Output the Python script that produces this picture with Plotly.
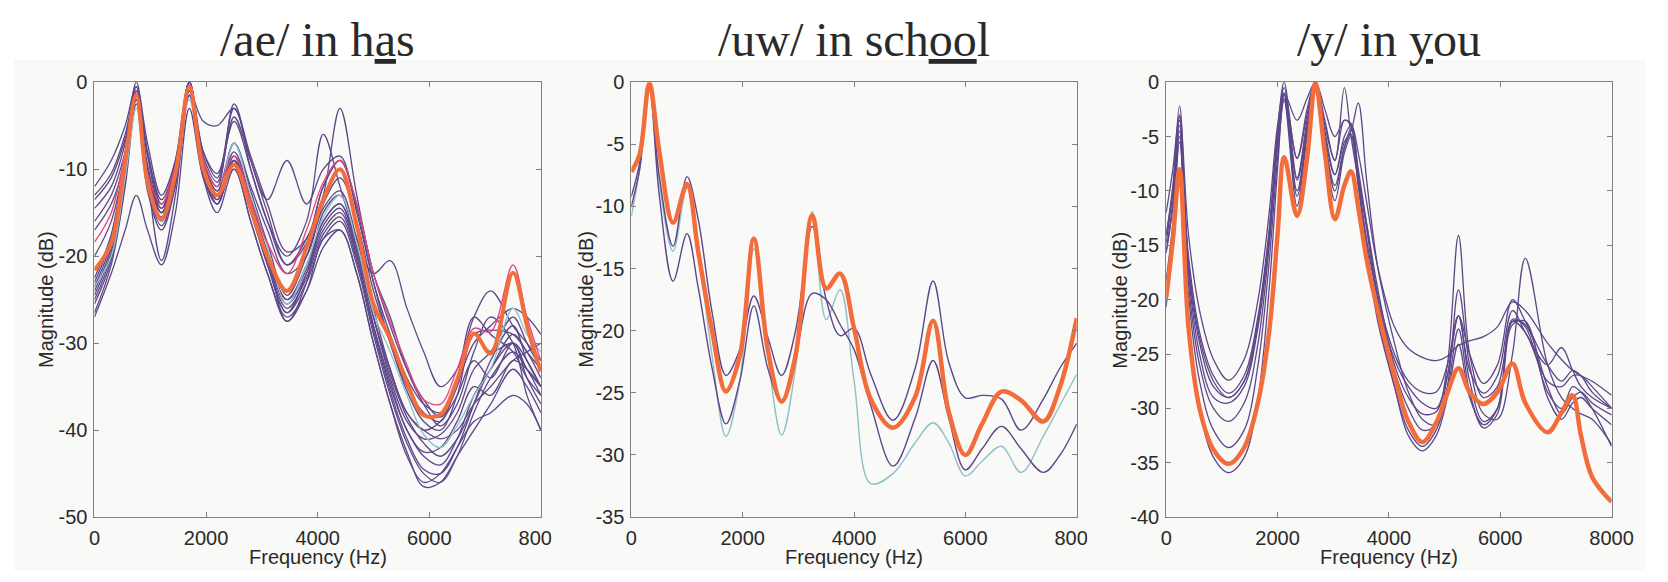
import plotly.graph_objects as go

W, H = 1668, 582

# ---------------- data ----------------
TITLES = ["/ae/ in h<u>a</u>s", "/uw/ in sch<u>oo</u>l", "/y/ in <u>y</u>ou"]
X_LABEL = "Frequency (Hz)"
Y_LABEL = "Magnitude (dB)"
X_TICKS = [0, 2000, 4000, 6000, 8000]
X_TICKTEXT = ["0", "2000", "4000", "6000", "8000"]
Y_TICKS_AE = [-50, -40, -30, -20, -10, 0]
Y_TICKS_UW = [-35, -30, -25, -20, -15, -10, -5, 0]
Y_TICKS_Y = [-40, -35, -30, -25, -20, -15, -10, -5, 0]

# Panel 1: /ae/ in has
FREQ_AE = [0, 300, 550, 750, 950, 1200, 1450, 1700, 1950, 2200, 2500, 2800, 3100, 3450, 3800,
           4100, 4400, 4700, 5000, 5300, 5600, 5900, 6200, 6500, 6800, 7100, 7500, 7750, 8000]
AE_ORANGE = [-21.6, -18.5, -9, -1.5, -11.5, -15.7, -10.5, -0.5, -10, -13, -9.5, -14.5, -20, -24, -19,
             -13.5, -10, -16.5, -25.5, -29.5, -34.5, -38.3, -38.2, -34.2, -28.9, -31.2, -21.9, -28, -33.3]
AE_PINK = [-18.4, -15, -8, -1, -10.5, -14, -9.5, -0.5, -9, -12, -8.5, -13.5, -18.5, -22, -17,
           -11.5, -9, -14, -22, -27.5, -32.5, -36.5, -37, -33, -28.3, -28.7, -21, -27, -32]
AE_TEAL = [-23.5, -20, -11, -3, -12, -16, -11, -2, -10, -13, -7, -13, -19, -25.5, -21,
           -15.5, -13, -18.5, -26.5, -31, -36, -40.5, -42, -39.5, -36, -33, -26, -29, -31]
AE_PURPLE = [
    [-24, -19, -10, -1, -11, -15.5, -10, 0, -9.5, -13.5, -8.5, -14, -20, -25.5, -22, -17, -15, -20, -28, -35, -40, -43, -44, -41, -36, -33, -29, -31, -34],
    [-25, -20, -11, -2, -12, -16, -11, -1, -10, -14, -9.5, -15, -21, -26.5, -23, -18, -16, -21, -29, -36, -41.5, -45, -46, -43, -38, -34, -31, -33, -36],
    [-23, -18, -9, -0.5, -10, -14.5, -9, 0, -9, -12.5, -8, -13.5, -19.5, -25, -21, -16, -14, -19.5, -27, -34, -39, -41, -40.5, -38, -33, -31, -27, -30, -33],
    [-26.5, -21, -12, -2.5, -12.5, -17, -12, -1.5, -11, -15, -10, -16, -22, -27, -24, -19, -17, -22, -30, -37, -42.5, -46.5, -46, -43, -40, -37, -33, -35, -38],
    [-22.5, -17.5, -8.5, -1, -10.5, -15, -10, -0.5, -10, -13, -7, -12.5, -18.5, -24.5, -20, -14.5, -12.5, -18, -26, -33, -38, -40, -39, -36, -32, -34, -30, -32, -35],
    [-24.5, -19.5, -10.5, -1.5, -11.5, -16, -10.5, -0.5, -10.5, -14, -9, -14.5, -20.5, -26, -22.5, -17.5, -15.5, -20.5, -28.5, -35.5, -41, -44.5, -45, -42, -37, -32, -28, -32, -35],
    [-25.5, -20.5, -11.5, -1, -12, -16.5, -11.5, -1, -10, -13.5, -9, -14.5, -21, -26.5, -22, -16.5, -14.5, -20, -28, -34.5, -40, -42.5, -42, -39, -35, -36, -32, -33, -35],
    [-23.5, -18.5, -9.5, -1, -11, -15, -10, 0, -9.5, -13, -8.5, -14, -20, -25, -21.5, -16, -14, -19, -27, -33.5, -38.5, -41.5, -43, -41, -37, -33, -30, -34, -37],
    [-12, -9, -5, -0.5, -7, -13, -9, 0, -8, -11, -3, -8.5, -14, -19.5, -18, -12, -9, -14, -22, -28, -33, -36.5, -38.5, -35, -29, -31, -30, -33, -35],
    [-13, -10.5, -6, -1, -8, -14, -10, 0, -8.5, -11.5, -4, -9, -13.5, -9, -14, -10, -8.5, -15, -23, -30, -35, -38, -39, -34, -27, -29, -31, -34, -36],
    [-14.5, -12, -7, 0, -8.5, -14.5, -10.5, -0.5, -9, -12, -2.5, -9, -15, -21, -18, -13, -3, -13, -22, -27, -33, -37, -39.5, -37, -31, -27, -30, -36, -40],
    [-16, -13, -8, -1.5, -9.5, -15, -11, -1, -4.5, -5, -3, -10, -16, -20, -16, -6, -12, -18, -22, -20.5, -26, -31, -35, -33, -27, -24, -28, -30, -32],
    [-13.5, -11, -6.5, -1, -8, -13.5, -9.5, 0, -8, -10.5, -4.5, -10, -16, -21, -18.5, -12, -9, -14.5, -23, -29, -34, -37, -38, -34.5, -30, -28, -26, -27, -29],
    [-17, -14, -9, -2, -10, -15, -11, -0.5, -9.5, -12.5, -7, -12, -17, -22, -20, -14, -11, -16, -24, -30, -35.5, -39, -40, -36, -29, -28.5, -29, -31, -33],
    [-27, -22, -17, -13, -17, -21, -15, -3, -11, -14, -9, -14.5, -20, -27.5, -24, -18, -17, -22, -30, -37, -43, -46, -45, -42, -39, -38, -36, -37, -40],
    [-20, -16, -9, -2, -11, -20.5, -13, -1.5, -10, -13, -10, -16, -22, -27.5, -23, -15, -13, -19, -27, -33, -38, -40, -41, -40, -37, -35, -32, -31, -30],
]

# Panel 2: /uw/ in school
FREQ_UW = [0, 150, 323, 500, 750, 1000, 1200, 1450, 1700, 1950, 2200, 2450, 2700, 2950, 3250,
           3500, 3750, 4000, 4300, 4700, 5100, 5420, 5700, 6000, 6300, 6650, 7000, 7400, 7700, 8000]
UW_ORANGE = [-7.2, -5.8, -0.1, -5.5, -11.3, -8.2, -13.6, -20, -24.9, -22, -12.6, -21.5, -25.7, -22, -10.7,
             -16.6, -15.4, -19.8, -25.5, -27.8, -25.3, -19.2, -26.5, -30, -27.5, -24.9, -25.6, -27.3, -24.5, -19]
UW_TEAL = [-10.8, -7, -0.5, -8, -13.6, -8.5, -13.5, -22, -28.5, -24, -13.4, -22, -28.4, -23, -10.4,
           -19.1, -16.7, -24, -32.3, -31.5, -29, -27.4, -29, -31.7, -30.5, -29.3, -31.4, -28.5, -26, -23.5]
UW_PURPLE = [
    [-9.2, -6.5, -0.3, -7.5, -13.2, -7.6, -11, -18.5, -23.6, -21.5, -17.2, -20.5, -23.6, -20, -11.6,
     -17.5, -20.4, -19.8, -23.5, -27.2, -23, -16, -22.5, -25.4, -25.2, -25.5, -28, -25.5, -23, -21],
    [-10, -7, -0.5, -9, -16, -12.2, -16.5, -23, -27.5, -24, -18, -23, -25.8, -22, -17,
     -17.5, -19.5, -21.5, -26, -30.9, -27, -22.4, -27, -31.2, -29.5, -27.7, -29.5, -31.4, -30, -27.5],
]

# Panel 3: /y/ in you
FREQ_Y = [0, 120, 240, 400, 600, 850, 1120, 1400, 1650, 1850, 2000, 2120, 2350, 2530, 2680,
          2850, 3030, 3200, 3320, 3450, 3600, 3800, 4100, 4350, 4600, 4850, 5050, 5250, 5450, 5700,
          5950, 6220, 6450, 6850, 7100, 7300, 7450, 7650, 8000]
Y_ORANGE = [-19.8, -14.5, -8.0, -22.5, -30, -33.8, -35.1, -33.6, -29.4, -22.9, -14, -6.9, -12.3, -7, -0.1,
            -6.5, -12.6, -9.5, -8.2, -11.5, -16.3, -21, -27, -31.2, -33.1, -31.3, -28.6, -26.3, -28.5, -29.6,
            -28.5, -25.9, -29.5, -32.2, -30.4, -28.8, -32.5, -36.3, -38.6]
Y_PURPLE = [
    [-12, -8, -3, -14, -21, -25.5, -27.4, -25.5, -20, -12, -4, -1, -3.5, -1.5, 0, -2.5, -5, -3.5, -3.8, -6.5,
     -11, -17, -22.5, -24.5, -25.3, -25.6, -25.2, -24.2, -23.8, -23.4, -22.5, -20.2, -21, -24, -25.5, -26.5, -27, -27.5, -28.8],
    [-14.1, -9.5, -2.2, -17, -24, -28, -29, -27.5, -22, -14, -5, -0.5, -7, -3, 0, -4, -7.2, -0.5, -5, -9,
     -13, -19, -26, -29, -30.5, -30.3, -26, -14.1, -25, -29, -28, -22, -23, -27.5, -28, -27, -27, -28, -30],
    [-14.8, -10, -3.5, -17.5, -25, -29, -29.5, -28, -22.5, -14.5, -5.5, -1.2, -9, -4, 0, -5, -8.5, -5.5, -4.5, -1.9,
     -9, -17, -24, -28.5, -31, -31.5, -28, -19.1, -26, -30.5, -31, -25, -16.2, -26, -29, -30, -30.5, -31, -33.3],
    [-15.5, -11, -4, -18.5, -26, -30, -31.2, -29.5, -24, -15, -6, -1.5, -10, -4.5, -0.3, -5.5, -9.5, -6, -4.8, -9,
     -14.5, -20, -26.5, -30, -32, -31.5, -27, -21.5, -27.5, -31.2, -30, -22, -22.3, -28, -30.5, -29, -28.5, -29.5, -30.6],
    [-15.7, -11.5, -4.5, -19.5, -27.5, -32, -33.6, -32, -26, -16.5, -7, -1.7, -11.4, -5, -0.5, -6, -10.9, -6.5, -5, -9.5,
     -15, -21.5, -28, -32, -33.5, -32, -28.5, -22.7, -28.5, -31.8, -30.5, -22.3, -22, -29, -31, -29.5, -29, -30, -31.5],
    [-18.2, -13, -5, -22, -30, -34.5, -35.9, -34.5, -29, -19, -8, -1, -10.5, -4.5, -0.2, -5.5, -10, -6, -4.3, -9.5,
     -15.5, -22, -28, -32.5, -33.9, -32.5, -29, -24.1, -29, -31.5, -30, -21.8, -22.5, -28.5, -30, -28, -28.5, -30, -33.5],
    [-20.7, -14, -5.5, -16, -23, -27, -28.6, -27, -21.5, -13.5, -4.5, 0, -8.8, -3.5, 0, -4.5, -8.5, -5, -4, -8.5,
     -13.5, -20, -25.5, -28, -29.5, -30, -27, -21.5, -26.5, -28.6, -27, -21, -23, -26, -24.4, -26.5, -28, -29, -30],
    [-14, -10, -3.2, -16.5, -23.5, -27.5, -29, -27.5, -22, -14, -5, -1, -7, -2.5, 0, -3.5, -7.2, -3.5, -4, -8,
     -13, -19.5, -25, -27.5, -28.5, -28.5, -26, -21.5, -25, -27.7, -26, -20, -22, -26, -27.5, -26.5, -27, -28.5, -30],
]

# ---------------- style ----------------
PURPLE = "#5d4789"
ORANGE = "#f26c3c"
TEAL = "#8fc1c8"
PINK = "#e2437e"
BG = "#f9f9f7"
AXC = "#808080"
TXT = "#2a2a2a"

fig = go.Figure()


def add(freq, vals, color, width, ax):
    fig.add_trace(go.Scatter(
        x=freq, y=vals, mode="lines",
        line=dict(color=color, width=width, shape="spline", smoothing=1.0),
        xaxis="x" + ax, yaxis="y" + ax, showlegend=False, hoverinfo="skip"))


for v in AE_PURPLE:
    add(FREQ_AE, v, PURPLE, 1.3, "")
add(FREQ_AE, AE_TEAL, TEAL, 1.3, "")
add(FREQ_AE, AE_PINK, PINK, 1.3, "")
add(FREQ_AE, AE_ORANGE, ORANGE, 4, "")

add(FREQ_UW, UW_TEAL, TEAL, 1.4, "2")
for v in UW_PURPLE:
    add(FREQ_UW, v, PURPLE, 1.4, "2")
add(FREQ_UW, UW_ORANGE, ORANGE, 4.5, "2")

for v in Y_PURPLE:
    add(FREQ_Y, v, PURPLE, 1.3, "3")
add(FREQ_Y, Y_ORANGE, ORANGE, 4.5, "3")

px_x = lambda p: p / W
px_y = lambda p: 1 - p / H

XDOM = [(90, 544), (636, 1089), (1180, 1633)]
YTITLE_X = [40, 590, 1133]
YDOM = [px_y(526), px_y(74)]
SANS = "Liberation Sans, Arial, sans-serif"
tickfont = dict(family=SANS, size=20, color=TXT)
titlefont = dict(family=SANS, size=20, color=TXT)

common_ax = dict(showgrid=False, zeroline=False, showline=True, linecolor=AXC, linewidth=1,
                 mirror="ticks", ticks="inside", ticklen=5, tickcolor=AXC, tickfont=tickfont)

yticks = [Y_TICKS_AE, Y_TICKS_UW, Y_TICKS_Y]
layout = {}
annotations = []
for i, suf in enumerate(["", "2", "3"]):
    x0, x1 = XDOM[i]
    cx = (x0 + x1) / 2
    layout["xaxis" + suf] = dict(
        common_ax, domain=[px_x(x0), px_x(x1)], range=[0, 8000], anchor="y" + suf,
        tickvals=X_TICKS, ticktext=X_TICKTEXT, ticklabelstandoff=3)
    layout["yaxis" + suf] = dict(
        common_ax, domain=YDOM, range=[min(yticks[i]), 0], anchor="x" + suf,
        tickvals=yticks[i], ticktext=[str(v) for v in yticks[i]], ticklabelstandoff=2)
    annotations.append(dict(text=TITLES[i], x=px_x(cx), y=1, xref="paper", yref="paper",
                            xanchor="center", yanchor="top", showarrow=False,
                            font=dict(family="Liberation Serif, Times New Roman, serif", size=48, color=TXT)))
    annotations.append(dict(text=X_LABEL, x=px_x(cx), y=px_y(567), xref="paper", yref="paper",
                            xanchor="center", yanchor="middle", showarrow=False, font=titlefont))
    annotations.append(dict(text=Y_LABEL, x=px_x(YTITLE_X[i]), y=px_y(300), xref="paper", yref="paper",
                            xanchor="center", yanchor="middle", textangle=-90, showarrow=False,
                            font=titlefont))

shapes = [
    dict(type="rect", xref="paper", yref="paper", x0=px_x(8), x1=1, y0=0, y1=px_y(51),
         fillcolor=BG, line=dict(width=0), layer="below"),
    # the neighbouring panel clips the last x tick label of panels 1 and 2
    dict(type="rect", xref="paper", yref="paper", x0=px_x(555), x1=px_x(584), y0=px_y(556), y1=px_y(529),
         fillcolor=BG, line=dict(width=0), layer="above"),
    dict(type="rect", xref="paper", yref="paper", x0=px_x(1100), x1=px_x(1128), y0=px_y(556), y1=px_y(529),
         fillcolor=BG, line=dict(width=0), layer="above"),
]

fig.update_layout(width=W, height=H, autosize=False, margin=dict(l=0, r=0, t=0, b=0, pad=0),
                  paper_bgcolor="white", plot_bgcolor=BG, showlegend=False,
                  annotations=annotations, shapes=shapes, **layout)

fig.write_html(
    "out.html",
    config={"displayModeBar": False},
    post_script=(
        "var d=document.getElementById('{plot_id}');"
        "d.style.position='fixed';d.style.left='0px';d.style.top='0px';"
        "document.body.style.margin='0';document.body.style.overflow='hidden';"
        "document.documentElement.style.overflow='hidden';"
    ),
)
